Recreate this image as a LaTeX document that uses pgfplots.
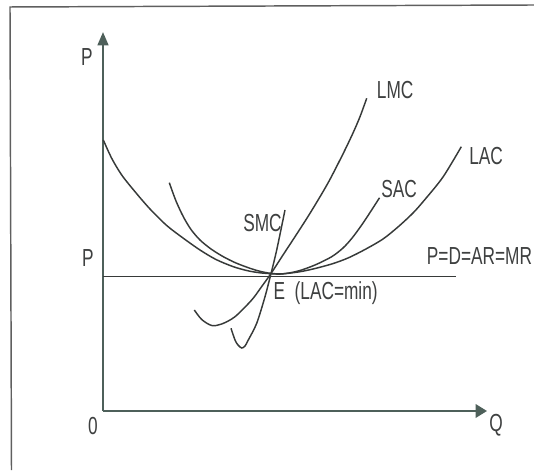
\documentclass[border=0pt]{standalone}
\usepackage{fontspec}
\setmainfont{Liberation Sans}[FakeStretch=0.7]
\usepackage{pgfplots}
\pgfplotsset{compat=1.18}
\usetikzlibrary{arrows.meta}
\definecolor{curvecol}{RGB}{55,58,57}
\definecolor{axiscol}{RGB}{78,96,90}
\definecolor{textcol}{RGB}{62,64,64}
\definecolor{framecol}{RGB}{95,95,95}
\begin{document}
\begin{tikzpicture}[font=\fontsize{18.5}{21}\selectfont]
\begin{axis}[
  scale only axis, width=288pt, height=284.25pt,
  xmin=0, xmax=384, ymin=0, ymax=379,
  axis lines=left,
  axis line style={axiscol, line width=1.8pt},
  x axis line style={-{Triangle[length=8.5pt,width=10pt]}},
  y axis line style={-{Triangle[length=10pt,width=8pt]}},
  xtick=\empty, ytick=\empty,
  clip=false,
]
% frame
\draw[framecol, line width=1.1pt] (axis cs:-91.5,-59) -- (axis cs:-93,404) -- (axis cs:431,406);
% price line
\addplot[curvecol, line width=0.85pt] coordinates {(0,134.5) (352.7,134.5)};
% LAC
\addplot[curvecol, line width=1.1pt, smooth, tension=0.5] coordinates {
(0.3,271) (8.7,252.7) (18.7,236) (32,219.3) (47,202) (63.7,185.5) (80,173) (97,161) (113,151.5)
(130.3,144.3) (145,140.2) (157,138.2) (168,137.3) (178,137) (195.3,139) (210,142) (228.7,147)
(245,153) (262,161.5) (280,172) (295.3,184.3) (310,198) (321.5,211) (340,234) (358.3,264.3)};
% SAC
\addplot[curvecol, line width=1.1pt, smooth, tension=0.5] coordinates {
(66.3,228.3) (73,210) (80.3,194.3) (88,181.5) (97,171) (108,162) (120.3,154.3) (133,148)
(147,142.7) (157,139.7) (168,137.6) (180,137.2) (195.3,140) (212,146) (228.7,154.3) (240,163)
(248.7,172.5) (258,185) (266.5,197.7) (276.5,213.2)};
% LMC
\addplot[curvecol, line width=1.1pt, smooth, tension=0.5] coordinates {
(91.3,101) (98.7,91.5) (108.7,85.5) (118.7,87) (132,94.3) (148.7,111) (158,123.5) (168,137.5)
(180,156) (192,174.3) (207,197.7) (225,228) (240.3,257.7) (250,278) (257,294.3) (263.7,312.7)};
% SMC
\addplot[curvecol, line width=1.1pt, smooth, tension=0.5] coordinates {
(128,82.7) (132,71) (135,66) (138.7,63) (142,65) (145.3,71) (153.7,87.7) (162,114.3)
(168,137.5) (173.7,161) (182,201)};
% labels
\begin{scope}[every node/.style={text=textcol, inner sep=0pt}]
\node[anchor=base] at (axis cs:-16,345) {P};
\node[anchor=base] at (axis cs:-15,144.3) {P};
\node[anchor=base] at (axis cs:-10,-23) {0};
\node[anchor=base] at (axis cs:393,-20) {Q};
\node[anchor=base west] at (axis cs:273.7,312.7) {LMC};
\node[anchor=base west] at (axis cs:366,246) {LAC};
\node[anchor=base west] at (axis cs:278,213.5) {SAC};
\node[anchor=base west] at (axis cs:140,179.3) {SMC};
\node[anchor=base west] at (axis cs:323.7,146) {P=D=AR=MR};
\node[anchor=base west] at (axis cs:170.3,111.7) {E\ \ (LAC=min)};
\end{scope}
\coordinate (bbA) at (axis cs:-103,-59);
\coordinate (bbB) at (axis cs:431,411);
\end{axis}
\pgfresetboundingbox
\useasboundingbox (bbA) rectangle (bbB);
\end{tikzpicture}
\end{document}
